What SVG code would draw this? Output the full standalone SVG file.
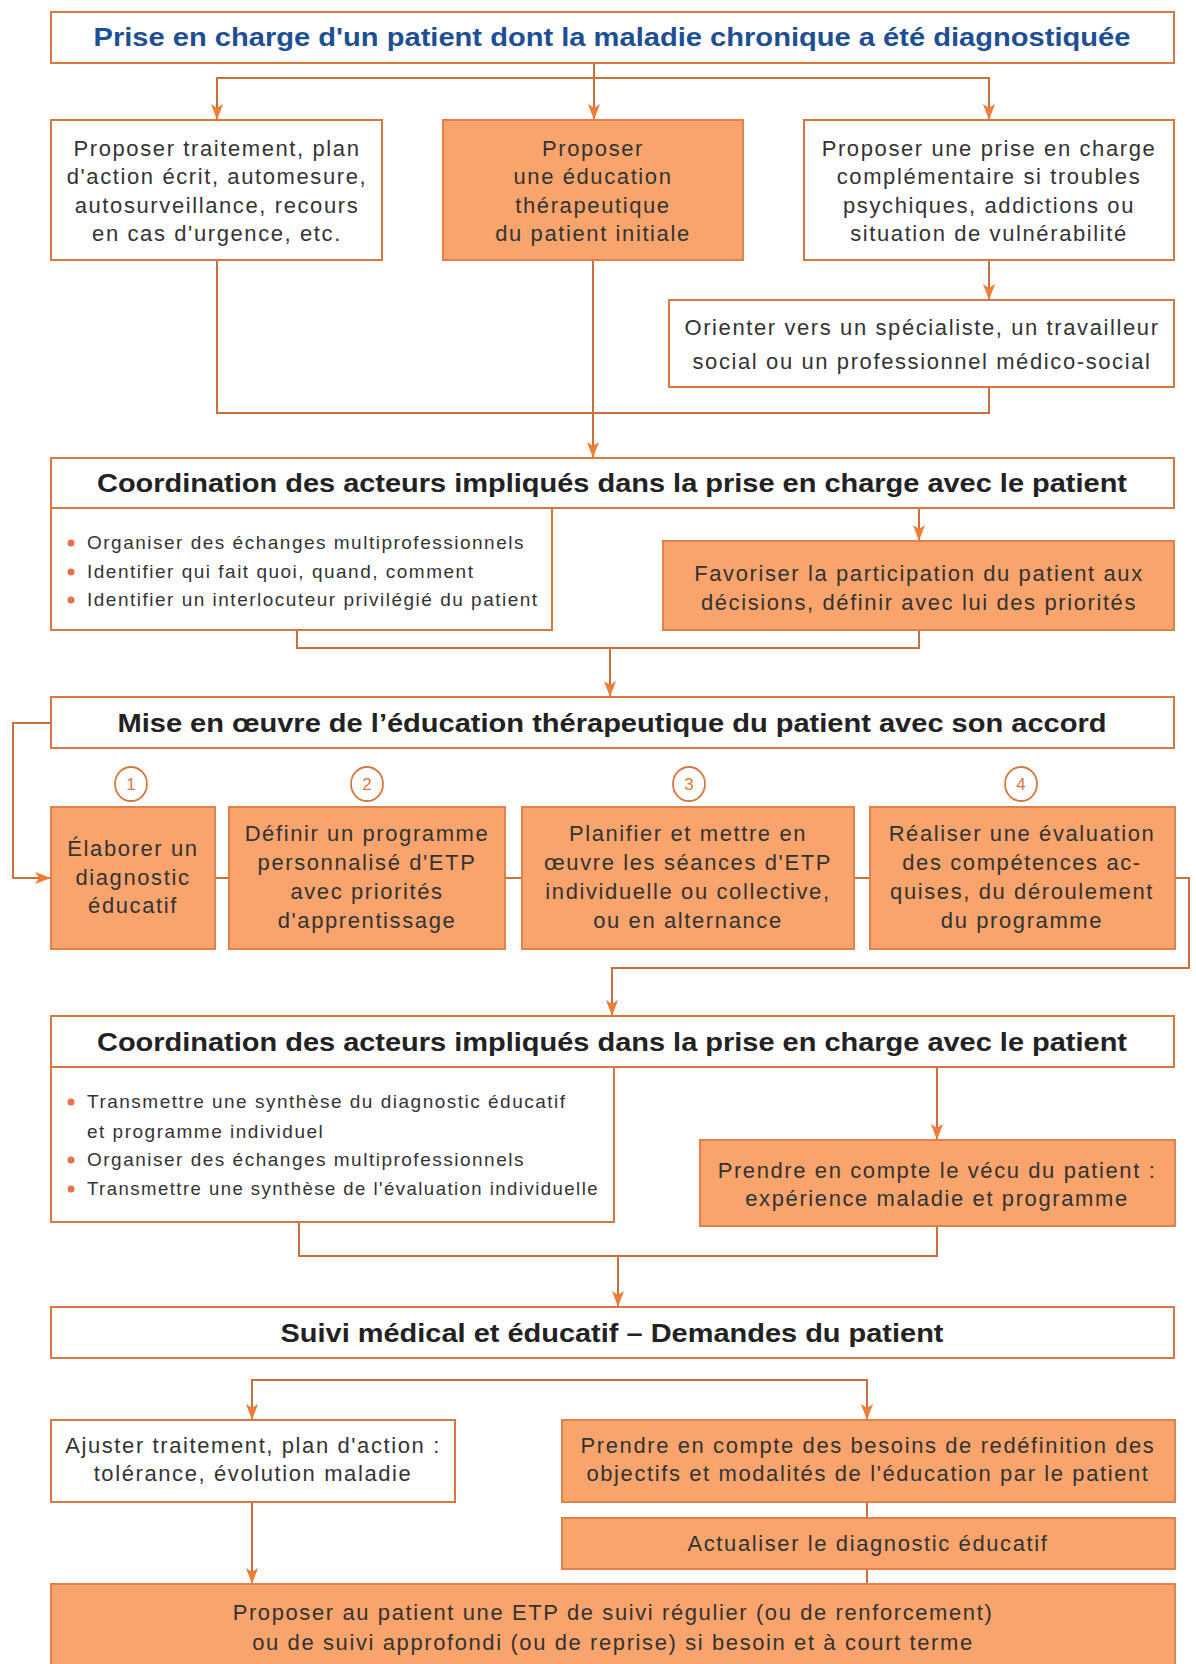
<svg xmlns="http://www.w3.org/2000/svg" width="1196" height="1664" viewBox="0 0 1196 1664">
<defs>
<marker id="arr" viewBox="0 0 16 12" refX="16" refY="6" markerWidth="16" markerHeight="12" markerUnits="userSpaceOnUse" orient="auto">
<path d="M0,0 L16,6 L0,12 L4,6 z" fill="#F07C35"/>
</marker>
<style>
.bw{fill:#ffffff;stroke:#D9773F;stroke-width:2}
.bo{fill:#F8A46C;stroke:#E0804A;stroke-width:2}
.ln{fill:none;stroke:#C9703C;stroke-width:2}
.ti{font-family:"Liberation Sans",Arial,sans-serif;font-weight:bold;font-size:26px;fill:#1E4F95;text-anchor:middle}
.hd{font-family:"Liberation Sans",Arial,sans-serif;font-weight:bold;font-size:26px;fill:#222222;text-anchor:middle}
.tx{font-family:"Liberation Sans",Arial,sans-serif;font-size:22px;fill:#333333;text-anchor:middle;letter-spacing:1.6px}
.bl{font-family:"Liberation Sans",Arial,sans-serif;font-size:19px;fill:#333333;letter-spacing:1.5px}
.nm{font-family:"Liberation Sans",Arial,sans-serif;font-size:17px;fill:#D9773F;text-anchor:middle}
.dot{fill:#E8704A}
.cir{fill:#ffffff;stroke:#D9773F;stroke-width:1.8}
</style>
</defs>
<rect width="1196" height="1664" fill="#ffffff"/>

<g id="connectors">
<path class="ln" d="M594,63 V120" marker-end="url(#arr)"/>
<path class="ln" d="M217,120 V78 H989 V120" marker-end="url(#arr)"/>
<path class="ln" d="M217,78 V120" marker-end="url(#arr)"/>
<path class="ln" d="M989,260 V300" marker-end="url(#arr)"/>
<path class="ln" d="M217,260 V413 H989 V387"/>
<path class="ln" d="M593,260 V458" marker-end="url(#arr)"/>
<path class="ln" d="M919,508 V541" marker-end="url(#arr)"/>
<path class="ln" d="M297,630 V648 H919 V630"/>
<path class="ln" d="M610,648 V697" marker-end="url(#arr)"/>
<path class="ln" d="M51,723 H13 V878 H51" marker-end="url(#arr)"/>
<path class="ln" d="M215,878 H229 M505,878 H522 M854,878 H870"/>
<path class="ln" d="M1175,878 H1189 V968 H612 V1016" marker-end="url(#arr)"/>
<path class="ln" d="M937,1067 V1140" marker-end="url(#arr)"/>
<path class="ln" d="M299,1222 V1256 H937 V1226"/>
<path class="ln" d="M618,1256 V1307" marker-end="url(#arr)"/>
<path class="ln" d="M252,1420 V1380 H867 V1420" marker-end="url(#arr)"/>
<path class="ln" d="M252,1380 V1420" marker-end="url(#arr)"/>
<path class="ln" d="M867,1502 V1518 M867,1569 V1584"/>
<path class="ln" d="M252,1502 V1584" marker-end="url(#arr)"/>
</g>

<g id="title">
<rect class="bw" x="51" y="12" width="1123" height="51"/>
<text class="ti" x="612" y="46" textLength="1037" lengthAdjust="spacingAndGlyphs">Prise en charge d'un patient dont la maladie chronique a été diagnostiquée</text>
</g>

<g id="boxA">
<rect class="bw" x="51" y="120" width="331" height="140"/>
<text class="tx" x="217" y="156">Proposer traitement, plan</text>
<text class="tx" x="217" y="184">d'action écrit, automesure,</text>
<text class="tx" x="217" y="213">autosurveillance, recours</text>
<text class="tx" x="217" y="241">en cas d'urgence, etc.</text>
</g>

<g id="boxB">
<rect class="bo" x="443" y="120" width="300" height="140"/>
<text class="tx" x="593" y="156">Proposer</text>
<text class="tx" x="593" y="184">une éducation</text>
<text class="tx" x="593" y="213">thérapeutique</text>
<text class="tx" x="593" y="241">du patient initiale</text>
</g>

<g id="boxC">
<rect class="bw" x="804" y="120" width="370" height="140"/>
<text class="tx" x="989" y="156">Proposer une prise en charge</text>
<text class="tx" x="989" y="184">complémentaire si troubles</text>
<text class="tx" x="989" y="213">psychiques, addictions ou</text>
<text class="tx" x="989" y="241">situation de vulnérabilité</text>
</g>

<g id="boxD">
<rect class="bw" x="669" y="300" width="505" height="87"/>
<text class="tx" x="922" y="335">Orienter vers un spécialiste, un travailleur</text>
<text class="tx" x="922" y="369">social ou un professionnel médico-social</text>
</g>

<g id="coord1">
<rect class="bw" x="51" y="458" width="1123" height="50"/>
<text class="hd" x="612" y="492" textLength="1030" lengthAdjust="spacingAndGlyphs">Coordination des acteurs impliqués dans la prise en charge avec le patient</text>
</g>

<g id="coord1-list">
<rect class="bw" x="51" y="508" width="501" height="122"/>
<circle class="dot" cx="71" cy="543" r="3.5"/>
<text class="bl" x="87" y="549">Organiser des échanges multiprofessionnels</text>
<circle class="dot" cx="71" cy="572" r="3.5"/>
<text class="bl" x="87" y="578">Identifier qui fait quoi, quand, comment</text>
<circle class="dot" cx="71" cy="600" r="3.5"/>
<text class="bl" x="87" y="606">Identifier un interlocuteur privilégié du patient</text>
</g>

<g id="favoriser">
<rect class="bo" x="663" y="541" width="511" height="89"/>
<text class="tx" x="919" y="581">Favoriser la participation du patient aux</text>
<text class="tx" x="919" y="610">décisions, définir avec lui des priorités</text>
</g>

<g id="mise">
<rect class="bw" x="51" y="697" width="1123" height="51"/>
<text class="hd" x="612" y="732" textLength="989" lengthAdjust="spacingAndGlyphs">Mise en œuvre de l’éducation thérapeutique du patient avec son accord</text>
</g>

<g id="step1">
<ellipse class="cir" cx="131" cy="784" rx="16" ry="17"/>
<text class="nm" x="131" y="790">1</text>
<rect class="bo" x="51" y="807" width="164" height="142"/>
<text class="tx" x="133" y="856">Élaborer un</text>
<text class="tx" x="133" y="885">diagnostic</text>
<text class="tx" x="133" y="913">éducatif</text>
</g>

<g id="step2">
<ellipse class="cir" cx="367" cy="784" rx="16" ry="17"/>
<text class="nm" x="367" y="790">2</text>
<rect class="bo" x="229" y="807" width="276" height="142"/>
<text class="tx" x="367" y="841">Définir un programme</text>
<text class="tx" x="367" y="870">personnalisé d'ETP</text>
<text class="tx" x="367" y="899">avec priorités</text>
<text class="tx" x="367" y="928">d'apprentissage</text>
</g>

<g id="step3">
<ellipse class="cir" cx="689" cy="784" rx="16" ry="17"/>
<text class="nm" x="689" y="790">3</text>
<rect class="bo" x="522" y="807" width="332" height="142"/>
<text class="tx" x="688" y="841">Planifier et mettre en</text>
<text class="tx" x="688" y="870">œuvre les séances d'ETP</text>
<text class="tx" x="688" y="899">individuelle ou collective,</text>
<text class="tx" x="688" y="928">ou en alternance</text>
</g>

<g id="step4">
<ellipse class="cir" cx="1021" cy="784" rx="16" ry="17"/>
<text class="nm" x="1021" y="790">4</text>
<rect class="bo" x="870" y="807" width="305" height="142"/>
<text class="tx" x="1022" y="841">Réaliser une évaluation</text>
<text class="tx" x="1022" y="870">des compétences ac-</text>
<text class="tx" x="1022" y="899">quises, du déroulement</text>
<text class="tx" x="1022" y="928">du programme</text>
</g>

<g id="coord2">
<rect class="bw" x="51" y="1016" width="1123" height="51"/>
<text class="hd" x="612" y="1051" textLength="1030" lengthAdjust="spacingAndGlyphs">Coordination des acteurs impliqués dans la prise en charge avec le patient</text>
</g>

<g id="coord2-list">
<rect class="bw" x="51" y="1067" width="563" height="155"/>
<circle class="dot" cx="71" cy="1102" r="3.5"/>
<text class="bl" x="87" y="1108">Transmettre une synthèse du diagnostic éducatif</text>
<text class="bl" x="87" y="1138">et programme individuel</text>
<circle class="dot" cx="71" cy="1160" r="3.5"/>
<text class="bl" x="87" y="1166">Organiser des échanges multiprofessionnels</text>
<circle class="dot" cx="71" cy="1189" r="3.5"/>
<text class="bl" x="87" y="1195" textLength="512" lengthAdjust="spacingAndGlyphs">Transmettre une synthèse de l'évaluation individuelle</text>
</g>

<g id="vecu">
<rect class="bo" x="700" y="1140" width="475" height="86"/>
<text class="tx" x="937" y="1178">Prendre en compte le vécu du patient :</text>
<text class="tx" x="937" y="1206">expérience maladie et programme</text>
</g>

<g id="suivi">
<rect class="bw" x="51" y="1307" width="1123" height="51"/>
<text class="hd" x="612" y="1342" textLength="663" lengthAdjust="spacingAndGlyphs">Suivi médical et éducatif – Demandes du patient</text>
</g>

<g id="ajuster">
<rect class="bw" x="51" y="1420" width="404" height="82"/>
<text class="tx" x="253" y="1453">Ajuster traitement, plan d'action :</text>
<text class="tx" x="253" y="1481">tolérance, évolution maladie</text>
</g>

<g id="besoins">
<rect class="bo" x="562" y="1420" width="613" height="82"/>
<text class="tx" x="868" y="1453">Prendre en compte des besoins de redéfinition des</text>
<text class="tx" x="868" y="1481">objectifs et modalités de l'éducation par le patient</text>
</g>

<g id="actualiser">
<rect class="bo" x="562" y="1518" width="613" height="51"/>
<text class="tx" x="868" y="1551">Actualiser le diagnostic éducatif</text>
</g>

<g id="final">
<rect class="bo" x="51" y="1584" width="1124" height="90"/>
<text class="tx" x="613" y="1620">Proposer au patient une ETP de suivi régulier (ou de renforcement)</text>
<text class="tx" x="613" y="1650">ou de suivi approfondi (ou de reprise) si besoin et à court terme</text>
</g>
</svg>
